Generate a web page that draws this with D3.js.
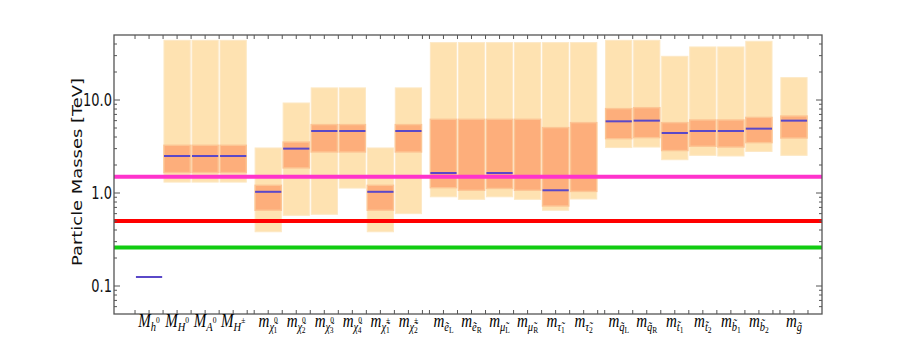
<!DOCTYPE html>
<html>
<head>
<meta charset="utf-8">
<script src="https://cdn.jsdelivr.net/npm/d3@7"></script>
<style>
  body { margin: 0; background: #fff; }
  svg text { font-family: "DejaVu Sans", sans-serif; }
</style>
</head>
<body>
<div id="chart"></div>
<script>
// particle positions on the x axis (groups separated by an extra quarter step)
const positions = [0, 1, 2, 3, 4.25, 5.25, 6.25, 7.25, 8.25, 9.25,
  10.5, 11.5, 12.5, 13.5, 14.5, 15.5, 16.75, 17.75, 18.75, 19.75, 20.75, 21.75, 23];
// label pieces: M/m, subscript symbol, its superscript, its subscript
const labelMain = ['M', 'M', 'M', 'M', 'm', 'm', 'm', 'm', 'm', 'm',
  'm', 'm', 'm', 'm', 'm', 'm', 'm', 'm', 'm', 'm', 'm', 'm', 'm'];
const labelBase = ['h', 'H', 'A', 'H', 'χ̃', 'χ̃', 'χ̃', 'χ̃', 'χ̃', 'χ̃',
  'ẽ', 'ẽ', 'μ̃', 'μ̃', 'τ̃', 'τ̃', 'q̃', 'q̃', 't̃', 't̃', 'b̃', 'b̃', 'g̃'];
const labelSup = ['0', '0', '0', '±', '0', '0', '0', '0', '±', '±',
  '', '', '', '', '', '', '', '', '', '', '', '', ''];
const labelSub = ['', '', '', '', '1', '2', '3', '4', '1', '2',
  'L', 'R', 'L', 'R', '1', '2', 'L', 'R', '1', '2', '1', '2', ''];

// masses in TeV: outer band, inner band, central value (null = no band)
const outerLow  = [null, 1.31, 1.31, 1.31, 0.383, 0.575, 0.59, 1.13, 0.383, 0.6,
  0.91, 0.855, 0.91, 0.855, 0.652, 0.862, 3.08, 3.12, 2.28, 2.54, 2.5, 2.8, 2.54];
const outerHigh = [null, 43.8, 43.8, 43.8, 3.05, 9.29, 13.5, 13.5, 3.05, 13.5,
  41.4, 41.4, 41.4, 41.4, 41.4, 41.4, 43.8, 43.8, 29.5, 37.2, 37.2, 42.8, 17.4];
const innerLow  = [null, 1.66, 1.66, 1.66, 0.652, 1.86, 2.76, 2.76, 0.652, 2.76,
  1.14, 1.07, 1.12, 1.07, 0.725, 1.04, 3.84, 3.94, 2.86, 3.18, 3.12, 3.48, 3.9];
const innerHigh = [null, 3.26, 3.26, 3.26, 1.21, 3.53, 5.44, 5.44, 1.21, 5.44,
  6.2, 6.2, 6.2, 6.2, 5.05, 5.71, 8.08, 8.27, 5.71, 6.1, 6.1, 6.5, 6.73];
const central   = [0.125, 2.5, 2.5, 2.5, 1.03, 3.0, 4.64, 4.64, 1.03, 4.64,
  1.64, 1.52, 1.64, 1.52, 1.07, 1.5, 5.9, 6.0, 4.42, 4.64, 4.64, 4.92, 6.0];

// horizontal reference lines
const refValues = [0.26, 0.5, 1.5];
const refColors = ['#11cc11', '#ff0000', '#ff33cc'];

const yTickLabels = ['0.1', '1.0', '10.0'];
const yTickValues = [0.1, 1, 10];

const WIDTH = 913, HEIGHT = 349;
const PLOT_LEFT = 114, PLOT_RIGHT = 822, PLOT_TOP = 35, PLOT_BOTTOM = 314;

const svg = d3.select('#chart').append('svg')
  .attr('width', WIDTH)
  .attr('height', HEIGHT);

const x = d3.scaleLinear().domain([-1.25, 24]).range([PLOT_LEFT, PLOT_RIGHT]);
const y = d3.scaleLog().domain([0.05, 50]).range([PLOT_BOTTOM, PLOT_TOP]);
const unit = x(1) - x(0);

// bands
let bars = svg.append('g');
positions.forEach((p, i) => {
  if (outerLow[i] == null) return;
  let x0 = x(p - 0.5) + 0.9, w = unit - 1.8;
  bars.append('rect')
    .attr('x', x0).attr('width', w)
    .attr('y', y(outerHigh[i]))
    .attr('height', y(outerLow[i]) - y(outerHigh[i]))
    .attr('fill', '#fee2b1')
    .attr('stroke', '#fde8c4').attr('stroke-width', 1);
  bars.append('rect')
    .attr('x', x0).attr('width', w)
    .attr('y', y(innerHigh[i]))
    .attr('height', y(innerLow[i]) - y(innerHigh[i]))
    .attr('fill', '#fdae7b')
    .attr('stroke', '#fcc594').attr('stroke-width', 1.4);
});

// central values
positions.forEach((p, i) => {
  bars.append('line')
    .attr('x1', x(p - 0.5) + 0.9).attr('x2', x(p + 0.5) - 0.9)
    .attr('y1', y(central[i])).attr('y2', y(central[i]))
    .attr('stroke', '#5a48c8').attr('stroke-width', 2);
});

// reference lines
refValues.forEach((v, i) => {
  svg.append('line')
    .attr('x1', PLOT_LEFT).attr('x2', PLOT_RIGHT)
    .attr('y1', y(v)).attr('y2', y(v))
    .attr('stroke', refColors[i]).attr('stroke-width', 4);
});

// frame
let axes = svg.append('g').attr('stroke', '#555').attr('fill', 'none');
axes.append('rect')
  .attr('x', PLOT_LEFT).attr('y', PLOT_TOP)
  .attr('width', PLOT_RIGHT - PLOT_LEFT).attr('height', PLOT_BOTTOM - PLOT_TOP)
  .attr('stroke-width', 1.3);

// y ticks, log minors
let minor = [];
[0.01, 0.1, 1, 10].forEach(d => {
  for (let k = 2; k <= 9; k++) {
    let v = d * k;
    if (v > 0.05 && v < 50) minor.push(v);
  }
});
minor.forEach(v => {
  axes.append('line').attr('x1', PLOT_LEFT).attr('x2', PLOT_LEFT + 3).attr('y1', y(v)).attr('y2', y(v));
  axes.append('line').attr('x1', PLOT_RIGHT).attr('x2', PLOT_RIGHT - 3).attr('y1', y(v)).attr('y2', y(v));
});
yTickValues.forEach(v => {
  axes.append('line').attr('x1', PLOT_LEFT).attr('x2', PLOT_LEFT + 6).attr('y1', y(v)).attr('y2', y(v));
  axes.append('line').attr('x1', PLOT_RIGHT).attr('x2', PLOT_RIGHT - 6).attr('y1', y(v)).attr('y2', y(v));
});

// x ticks at bar centres and edges
let xt = [];
positions.forEach(p => xt.push(p - 0.5, p, p + 0.5));
xt = Array.from(new Set(xt.map(v => +v.toFixed(2))));
xt.forEach(v => {
  axes.append('line').attr('x1', x(v)).attr('x2', x(v)).attr('y1', PLOT_BOTTOM).attr('y2', PLOT_BOTTOM - 4);
  axes.append('line').attr('x1', x(v)).attr('x2', x(v)).attr('y1', PLOT_TOP).attr('y2', PLOT_TOP + 4);
});

// y tick labels
yTickValues.forEach((v, i) => {
  svg.append('g')
    .attr('transform', `translate(${PLOT_LEFT - 2},${y(v)}) scale(1,1.3)`)
    .append('text')
    .attr('text-anchor', 'end')
    .attr('dy', '0.36em')
    .attr('font-size', 13)
    .attr('fill', '#111')
    .text(yTickLabels[i]);
});

// y axis title
svg.append('text')
  .attr('transform', 'translate(82,172) rotate(-90) scale(1.28,1)')
  .attr('text-anchor', 'middle')
  .attr('font-size', 14)
  .attr('fill', '#111')
  .text('Particle Masses [TeV]');

// x labels
let xl = svg.append('g').attr('transform', 'translate(0,327) scale(1,1.2)');
positions.forEach((p, i) => {
  let t = xl.append('text')
    .attr('x', x(p))
    .attr('y', 0)
    .attr('text-anchor', 'middle')
    .attr('fill', '#000')
    .style('font-family', '"Liberation Serif", "DejaVu Serif", serif');
  t.append('tspan').attr('font-style', 'italic').attr('font-size', 15).text(labelMain[i]);
  t.append('tspan').attr('font-style', 'italic').attr('font-size', 10.5).attr('dy', 3).text(labelBase[i]);
  if (labelSup[i]) {
    t.append('tspan').attr('font-size', 7.5).attr('dy', -6).text(labelSup[i]);
  }
  if (labelSub[i]) {
    let shift = labelSup[i] ? -4.2 : 0;
    t.append('tspan').attr('font-size', 7.5).attr('dx', shift).attr('dy', labelSup[i] ? 8 : 2).text(labelSub[i]);
  }
});
</script>
</body>
</html>
